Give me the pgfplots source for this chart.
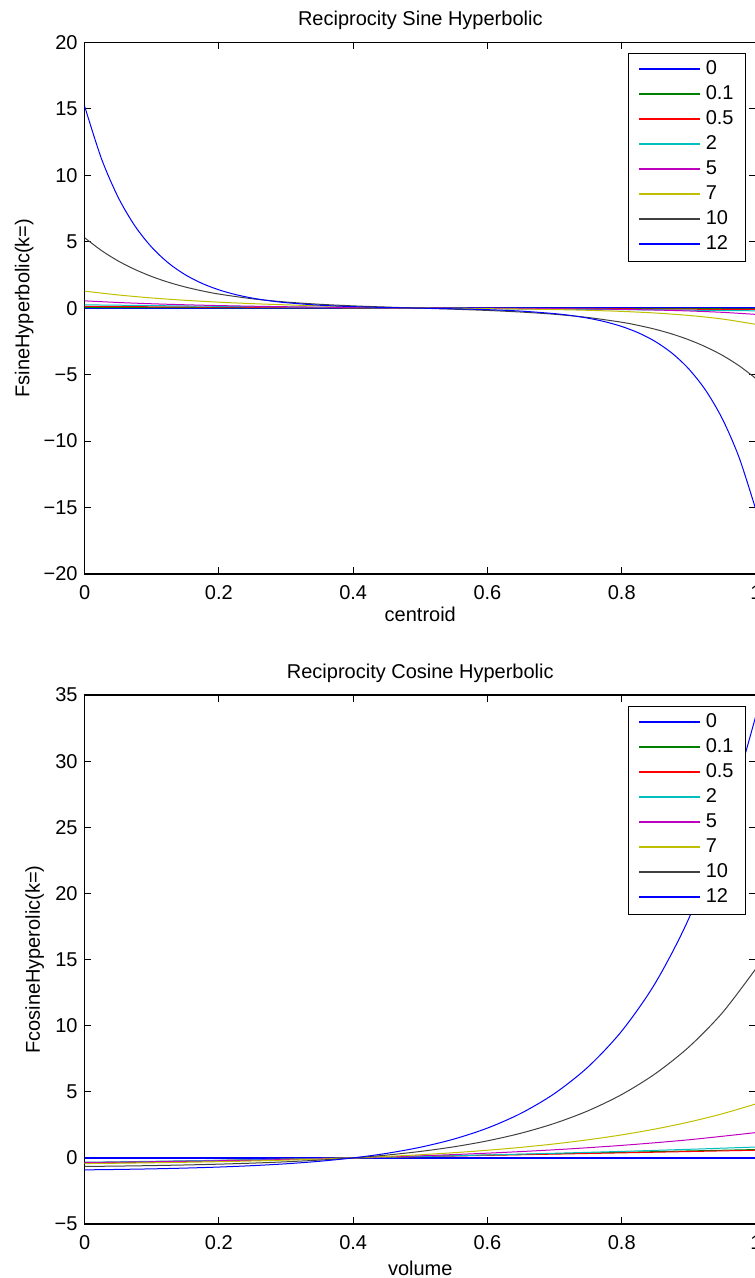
\documentclass[border=0pt]{standalone}
\usepackage{pgfplots}
\pgfplotsset{compat=1.18}
\usepackage{fontspec}
\setmainfont{Liberation Sans}

\definecolor{mblue}{rgb}{0,0,1}
\definecolor{mgreen}{rgb}{0,0.5,0}
\definecolor{mred}{rgb}{1,0,0}
\definecolor{mcyan}{rgb}{0,0.75,0.75}
\definecolor{mmag}{rgb}{0.75,0,0.75}
\definecolor{myel}{rgb}{0.75,0.75,0}
\definecolor{mgray}{rgb}{0.25,0.25,0.25}

\pgfplotsset{
  mlab/.style={
    scale only axis,
    width=335.7pt,
    xmin=0, xmax=1,
    axis line style={line width=0.6pt},
    tick align=inside,
    major tick length=3.35pt,
    tick style={black, line width=0.5pt},
    xtick={0,0.2,0.4,0.6,0.8,1},
    xticklabels={0,0.2,0.4,0.6,0.8,1},
    font=\fontsize{10}{12}\selectfont,
    xticklabel style={yshift=-2.2pt},
    every axis plot/.append style={line width=0.5pt, smooth},
    legend cell align=left,
    legend style={at={(1,1)}, anchor=north east, xshift=-5pt,
      fill=white,
      inner xsep=5pt, inner ysep=2.2pt, row sep=0.5pt, column sep=1.7pt,
      nodes={inner sep=1pt, text height=7.5pt, text depth=2.5pt},
      font=\fontsize{10}{12}\selectfont},
    legend image code/.code={\draw[#1, line width=0.75pt] (0pt,0.25pt) -- (30.3pt,0.25pt);},
    title style={at={(0.5,1)}, anchor=base, yshift=2.4pt, font=\fontsize{10}{12}\selectfont},
  }
}

\begin{document}
\begin{tikzpicture}

% ---- upper panel ----
\begin{axis}[mlab,
  at={(42.3pt,-287pt)}, anchor=south west,
  height=265.85pt,
  legend style={yshift=-5.3pt},
  ymin=-20, ymax=20,
  ytick={-20,-15,-10,-5,0,5,10,15,20},
  yticklabels={−20,−15,−10,−5,0,5,10,15,20},
  title={Reciprocity Sine Hyperbolic},
  xlabel={centroid},
  xlabel style={at={(axis description cs:0.5,0)}, anchor=base, yshift=-23.85pt},
  ylabel={FsineHyperbolic(k=)},
  ylabel style={at={(axis description cs:-0.0821,0.5)}, anchor=base, rotate=0},
]
\addplot[draw=mblue, line width=0.7pt] coordinates {(0,0) (1,0)};
\addplot[draw=mgreen] coordinates {(0,0.05) (0.5,0) (1,-0.05)};
\addplot[draw=mred] coordinates {(0,0.13) (0.25,0.065) (0.5,0) (0.75,-0.05) (1,-0.1)};
\addplot[draw=mcyan] coordinates {(0,0.25) (0.25,0.111) (0.5,0) (0.75,-0.089) (1,-0.2)};
\addplot[draw=mmag] coordinates {
  (0,0.55) (0.05,0.426) (0.1,0.330) (0.15,0.254) (0.2,0.194) (0.25,0.146)
  (0.3,0.107) (0.35,0.075) (0.4,0.047) (0.45,0.023) (0.5,0)
  (0.55,-0.007) (0.6,-0.015) (0.65,-0.026) (0.7,-0.041) (0.75,-0.062)
  (0.8,-0.094) (0.85,-0.141) (0.9,-0.211) (0.95,-0.315) (1,-0.47)};
\addplot[draw=myel] coordinates {
  (0,1.28) (0.05,0.993) (0.1,0.767) (0.15,0.590) (0.2,0.450) (0.25,0.339)
  (0.3,0.249) (0.35,0.174) (0.4,0.110) (0.45,0.053) (0.5,0)
  (0.55,-0.018) (0.6,-0.040) (0.65,-0.067) (0.7,-0.106) (0.75,-0.162)
  (0.8,-0.244) (0.85,-0.366) (0.9,-0.548) (0.95,-0.818) (1,-1.22)};
\addplot[draw=mgray] coordinates {
  (0,5.30) (0.025,4.34) (0.05,3.55) (0.075,2.91) (0.1,2.38) (0.125,1.946)
  (0.15,1.59) (0.175,1.300) (0.2,1.06) (0.25,0.704) (0.3,0.461) (0.35,0.293)
  (0.4,0.172) (0.45,0.080) (0.5,0)
  (0.55,-0.080) (0.6,-0.172) (0.65,-0.293) (0.7,-0.461) (0.75,-0.704)
  (0.8,-1.06) (0.825,-1.300) (0.85,-1.59) (0.875,-1.946) (0.9,-2.38)
  (0.925,-2.91) (0.95,-3.55) (0.975,-4.34) (1,-5.30)};
\addplot[draw=mblue] coordinates {
  (0,15.20) (0.025,11.26) (0.05,8.34) (0.075,6.18) (0.1,4.58) (0.125,3.39)
  (0.15,2.51) (0.175,1.86) (0.2,1.378) (0.225,1.020) (0.25,0.755) (0.275,0.558)
  (0.3,0.412) (0.35,0.222) (0.4,0.114) (0.45,0.048) (0.5,0)
  (0.55,-0.048) (0.6,-0.114) (0.65,-0.222) (0.7,-0.412) (0.725,-0.558)
  (0.75,-0.755) (0.775,-1.020) (0.8,-1.378) (0.825,-1.86) (0.85,-2.51)
  (0.875,-3.39) (0.9,-4.58) (0.925,-6.18) (0.95,-8.34) (0.975,-11.26) (1,-15.20)};
\legend{0,0.1,0.5,2,5,7,10,12}
\end{axis}

% ---- lower panel ----
\begin{axis}[mlab,
  at={(42.3pt,-612pt)}, anchor=south west,
  height=264.5pt,
  legend style={yshift=-5.45pt},
  ymin=-5, ymax=35,
  ytick={-5,0,5,10,15,20,25,30,35},
  yticklabels={−5,0,5,10,15,20,25,30,35},
  title={Reciprocity Cosine Hyperbolic},
  xlabel={volume},
  xlabel style={at={(axis description cs:0.5,0)}, anchor=base, yshift=-25.5pt},
  ylabel={FcosineHyperolic(k=)},
  ylabel style={at={(axis description cs:-0.0665,0.5)}, anchor=base, rotate=0},
]
\addplot[draw=mblue, line width=0.7pt] coordinates {(0,0) (1,0)};
\addplot[draw=mgreen] coordinates {(0,-0.42) (0.4,0) (1,0.63)};
\addplot[draw=mred] coordinates {(0,-0.38) (0.2,-0.19) (0.4,0) (0.6,0.19) (0.8,0.38) (1,0.58)};
\addplot[draw=mcyan] coordinates {
  (0,-0.330) (0.1,-0.259) (0.2,-0.181) (0.3,-0.095) (0.4,0) (0.5,0.105)
  (0.6,0.221) (0.7,0.350) (0.8,0.492) (0.9,0.649) (1,0.822)};
\addplot[draw=mmag] coordinates {
  (0,-0.348) (0.1,-0.290) (0.2,-0.216) (0.3,-0.122) (0.4,0) (0.5,0.156)
  (0.6,0.357) (0.7,0.614) (0.8,0.945) (0.9,1.370) (1,1.915)};
\addplot[draw=myel] coordinates {
  (0,-0.429) (0.05,-0.403) (0.1,-0.371) (0.15,-0.332) (0.2,-0.287) (0.25,-0.233)
  (0.3,-0.168) (0.35,-0.091) (0.4,0) (0.45,0.109) (0.5,0.239) (0.55,0.393)
  (0.6,0.578) (0.65,0.797) (0.7,1.059) (0.75,1.370) (0.8,1.741) (0.85,2.184)
  (0.9,2.710) (0.95,3.337) (1,4.085)};
\addplot[draw=mgray] coordinates {
  (0,-0.649) (0.05,-0.620) (0.1,-0.583) (0.15,-0.535) (0.2,-0.474) (0.25,-0.396)
  (0.3,-0.295) (0.35,-0.166) (0.4,0) (0.45,0.213) (0.5,0.487) (0.55,0.838)
  (0.6,1.289) (0.65,1.868) (0.7,2.611) (0.75,3.566) (0.8,4.792) (0.85,6.366)
  (0.9,8.386) (0.95,10.98) (1,14.32)};
\addplot[draw=mblue] coordinates {
  (0,-0.906) (0.05,-0.873) (0.1,-0.830) (0.15,-0.771) (0.2,-0.693) (0.25,-0.587)
  (0.3,-0.446) (0.35,-0.256) (0.4,0) (0.45,0.343) (0.5,0.804) (0.55,1.423)
  (0.6,2.254) (0.65,3.371) (0.7,4.871) (0.75,6.885) (0.8,9.59) (0.85,13.22)
  (0.9,18.11) (0.95,24.66) (1,33.47)};
\legend{0,0.1,0.5,2,5,7,10,12}
\end{axis}

\pgfresetboundingbox
\useasboundingbox (0pt,0pt) rectangle (377pt,-639pt);
\end{tikzpicture}
\end{document}
